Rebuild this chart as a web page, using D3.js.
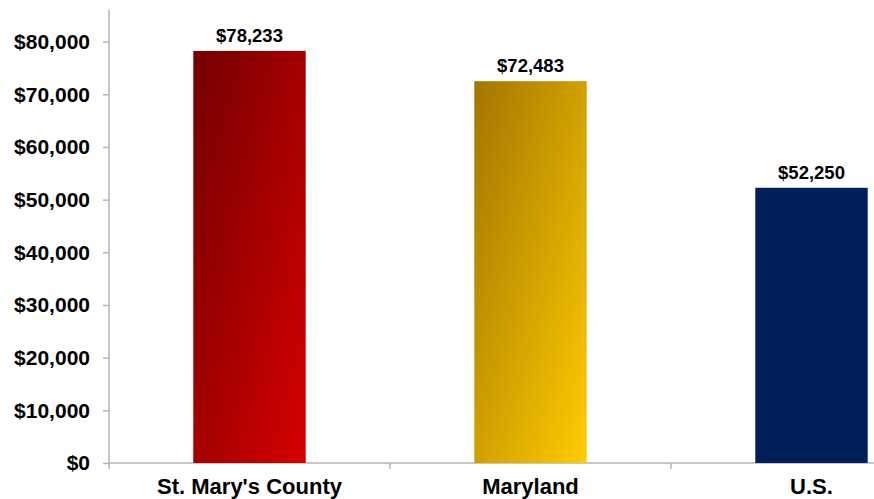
<!DOCTYPE html>
<html><head><meta charset="utf-8">
<script src="https://cdn.jsdelivr.net/npm/d3@7"></script>
<style>body{margin:0;background:#fff}svg{display:block}</style>
</head><body><svg id="c" width="874" height="499"></svg>
<script>
const categories = ["St. Mary's County", "Maryland", "U.S."];
const values = [78233, 72483, 52250];
const yTicks = [0, 10000, 20000, 30000, 40000, 50000, 60000, 70000, 80000];
const barColors = [["#730000", "#d60000"], ["#a37500", "#ffcc00"], ["#00205b", "#00205b"]];

const svg = d3.select("#c");
const mLeft = 109, mRight = 952, mTop = 10, mBottom = 463;
const font = "'Liberation Sans', Arial, sans-serif";

const x = d3.scaleBand().domain(categories).range([mLeft, mRight]).paddingInner(0.6).paddingOuter(0.3);
const xOuter = d3.scaleBand().domain(categories).range([mLeft, mRight]);
const y = d3.scaleLinear().domain([0, 86000]).range([mBottom, mTop]);

const defs = svg.append("defs");
categories.forEach((c, i) => {
  const g = defs.append("linearGradient").attr("id", "g" + i)
    .attr("x1", 0).attr("y1", 0).attr("x2", 1).attr("y2", 1);
  g.append("stop").attr("offset", "0%").attr("stop-color", barColors[i][0]);
  g.append("stop").attr("offset", "100%").attr("stop-color", barColors[i][1]);
});

// y axis
const yAxis = svg.append("g").attr("transform", `translate(${mLeft},0)`)
  .call(d3.axisLeft(y).tickValues(yTicks).tickSize(6).tickPadding(13)
    .tickFormat(d => "$" + d3.format(",")(d)));
yAxis.select(".domain").attr("stroke", "#b4b4b4").attr("stroke-width", 1.5)
  .attr("d", `M0,${mTop}V${mBottom}`);
yAxis.selectAll(".tick line").attr("stroke", "#b4b4b4").attr("stroke-width", 1.5);
yAxis.selectAll(".tick text").attr("font-family", font).attr("font-weight", "bold")
  .attr("font-size", 21).attr("fill", "#000");

// x axis
const xAxis = svg.append("g").attr("transform", `translate(0,${mBottom})`);
xAxis.append("line").attr("x1", mLeft).attr("x2", mRight).attr("y1", 0).attr("y2", 0)
  .attr("stroke", "#b4b4b4").attr("stroke-width", 1.5);
xAxis.selectAll("line.t").data(categories).enter().append("line").attr("class", "t")
  .attr("x1", d => xOuter(d)).attr("x2", d => xOuter(d)).attr("y1", 0).attr("y2", 6)
  .attr("stroke", "#b4b4b4").attr("stroke-width", 1.5);
xAxis.selectAll("text").data(categories).enter().append("text")
  .attr("x", d => x(d) + x.bandwidth() / 2).attr("y", 31)
  .attr("text-anchor", "middle").attr("font-family", font).attr("font-weight", "bold")
  .attr("font-size", 22).attr("fill", "#000").text(d => d);

// bars
svg.selectAll("rect.bar").data(values).enter().append("rect").attr("class", "bar")
  .attr("x", (d, i) => x(categories[i])).attr("width", x.bandwidth())
  .attr("y", d => y(d)).attr("height", d => mBottom - y(d))
  .attr("fill", (d, i) => `url(#g${i})`);

// value labels
svg.selectAll("text.val").data(values).enter().append("text").attr("class", "val")
  .attr("x", (d, i) => x(categories[i]) + x.bandwidth() / 2).attr("y", d => y(d) - 9)
  .attr("text-anchor", "middle").attr("font-family", font).attr("font-weight", "bold")
  .attr("font-size", 18.5).attr("fill", "#000").text(d => "$" + d3.format(",")(d));
</script></body></html>
